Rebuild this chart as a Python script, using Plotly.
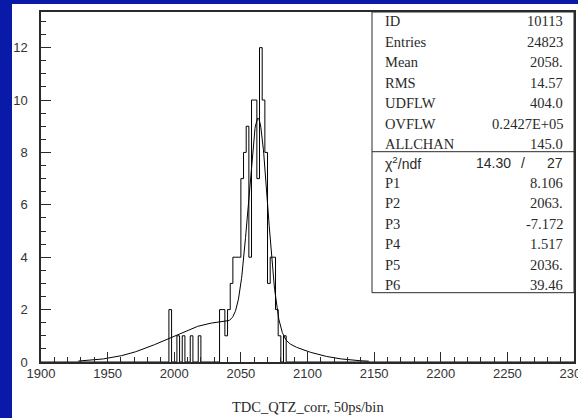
import numpy as np
import plotly.graph_objects as go

# ---- histogram data: 2-unit bins over 1900..2300, only the non-empty bins ----
X_MIN, X_MAX, BIN_W = 1900, 2300, 2
bin_lo = [1996, 2002, 2006, 2012, 2018,
          2034, 2036, 2038, 2040, 2042, 2044, 2046, 2048,
          2050, 2052, 2054, 2056, 2058, 2060, 2062, 2064, 2066, 2068,
          2070, 2072, 2074, 2076, 2078, 2082]
bin_counts = [2, 1, 1, 1, 1,
              2, 2, 1, 2, 3, 4, 4, 4,
              7, 8, 9, 4, 10, 10, 7, 12, 10, 8,
              3, 4, 4, 2, 1, 1]

# ---- fit: narrow gaussian (P1..P3) + broad gaussian (P4..P6) ----
fit_params = [8.106, 2063.0, -7.172, 1.517, 2036.0, 39.46]
fit_range = [1928, 2146]

# ---- statistics box ----
stat_names = ["ID", "Entries", "Mean", "RMS", "UDFLW", "OVFLW", "ALLCHAN"]
stat_values = ["10113", "24823", "2058.", "14.57", "404.0", "0.2427E+05", "145.0"]
chi2_text = ["14.30", "/", "27"]
par_names = ["P1", "P2", "P3", "P4", "P5", "P6"]
par_values = ["8.106", "2063.", "-7.172", "1.517", "2036.", "39.46"]

x_title = "TDC_QTZ_corr, 50ps/bin"
Y_MAX = 13.36

# ---- build the step outline of the histogram ----
edges = np.arange(X_MIN, X_MAX + BIN_W, BIN_W)
contents = np.zeros(len(edges) - 1)
for lo, c in zip(bin_lo, bin_counts):
    contents[(lo - X_MIN) // BIN_W] = c
step_x = edges
step_y = np.append(contents, contents[-1])

# ---- fit curve ----
p1, p2, p3, p4, p5, p6 = fit_params
fx = np.linspace(fit_range[0], fit_range[1], 800)
fy = p1 * np.exp(-0.5 * ((fx - p2) / p3) ** 2) + p4 * np.exp(-0.5 * ((fx - p5) / p6) ** 2)

# ---- page geometry (pixels) ----
W, H = 578, 418
ML, MR, MT, MB = 41, 4, 12, 56
PW, PH = W - ML - MR, H - MT - MB


def px(xp):
    return (xp - ML) / PW


def py(yp):
    return (MT + PH - yp) / PH


INK = "#2a2a2a"
SERIF = "Liberation Serif"
SANS = "Liberation Sans"

fig = go.Figure()
fig.add_trace(go.Scatter(x=step_x, y=step_y, mode="lines", line_shape="hv",
                         line=dict(color="black", width=1), hoverinfo="skip"))
fig.add_trace(go.Scatter(x=fx, y=fy, mode="lines",
                         line=dict(color="black", width=1), hoverinfo="skip"))

shapes = [
    # white page on the blue background
    dict(type="rect", xref="paper", yref="paper", layer="below",
         x0=px(12), x1=px(W + 2), y0=py(H + 2), y1=py(4),
         fillcolor="white", line=dict(width=0)),
    # statistics box
    dict(type="rect", xref="paper", yref="paper",
         x0=px(372), x1=1, y0=py(292.7), y1=1,
         fillcolor="white", line=dict(color=INK, width=1)),
    dict(type="line", xref="paper", yref="paper",
         x0=px(372), x1=1, y0=py(151.7), y1=py(151.7),
         line=dict(color=INK, width=1)),
]

annotations = []
row_y0, row_dy = 21.2, 20.5
label_x, value_x = 383, 565
for i, (n, v) in enumerate(zip(stat_names, stat_values)):
    yy = py(row_y0 + i * row_dy)
    annotations.append(dict(x=px(label_x), y=yy, text=n, xanchor="left", yanchor="middle",
                            font=dict(family=SERIF, size=14.5, color=INK)))
    annotations.append(dict(x=px(value_x), y=yy, text=v, xanchor="right", yanchor="middle",
                            font=dict(family=SERIF, size=14.5, color=INK)))

chi_y = py(163.3)
annotations.append(dict(x=px(label_x), y=chi_y, text="χ<sup>2</sup>/ndf", xanchor="left",
                        yanchor="middle", font=dict(family=SANS, size=14, color=INK)))
annotations.append(dict(x=px(513), y=chi_y, text=chi2_text[0], xanchor="right",
                        yanchor="middle", font=dict(family=SANS, size=14, color=INK)))
annotations.append(dict(x=px(523), y=chi_y, text=chi2_text[1], xanchor="center",
                        yanchor="middle", font=dict(family=SANS, size=14, color=INK)))
annotations.append(dict(x=px(value_x), y=chi_y, text=chi2_text[2], xanchor="right",
                        yanchor="middle", font=dict(family=SANS, size=14, color=INK)))

par_y0 = 182.7
for i, (n, v) in enumerate(zip(par_names, par_values)):
    yy = py(par_y0 + i * row_dy)
    annotations.append(dict(x=px(label_x), y=yy, text=n, xanchor="left", yanchor="middle",
                            font=dict(family=SERIF, size=14.5, color=INK)))
    annotations.append(dict(x=px(value_x), y=yy, text=v, xanchor="right", yanchor="middle",
                            font=dict(family=SERIF, size=14.5, color=INK)))

annotations.append(dict(x=0.5, y=py(407.3), text=x_title, xanchor="center", yanchor="middle",
                        font=dict(family=SERIF, size=14.5, color=INK)))

for a in annotations:
    a.update(xref="paper", yref="paper", showarrow=False)

fig.update_layout(
    width=W, height=H,
    margin=dict(l=ML, r=MR, t=MT, b=MB, pad=0, autoexpand=False),
    paper_bgcolor="#0A1AA8",
    plot_bgcolor="rgba(0,0,0,0)",
    showlegend=False,
    shapes=shapes,
    annotations=annotations,
    xaxis=dict(range=[X_MIN, X_MAX], showgrid=False, zeroline=False, automargin=False,
               showline=True, linecolor=INK, linewidth=1.5, mirror=True,
               ticks="inside", ticklen=10, tickcolor=INK, tickwidth=1,
               tick0=1900, dtick=50, ticklabelstandoff=-1,
               ticklabeloverflow="allow",
               tickfont=dict(family=SANS, size=13, color="#333"),
               minor=dict(ticks="inside", ticklen=5, dtick=10, tick0=1900,
                          tickcolor=INK, tickwidth=1, showgrid=False)),
    yaxis=dict(range=[0, Y_MAX], showgrid=False, zeroline=False, automargin=False,
               showline=True, linecolor=INK, linewidth=1.5, mirror=True,
               ticks="inside", ticklen=10, tickcolor=INK, tickwidth=1,
               tick0=0, dtick=2, ticklabelstandoff=9,
               tickfont=dict(family=SANS, size=13, color="#333"),
               minor=dict(ticks="inside", ticklen=5, dtick=0.5, tick0=0,
                          tickcolor=INK, tickwidth=1, showgrid=False)),
)

fig.write_html("out.html")
